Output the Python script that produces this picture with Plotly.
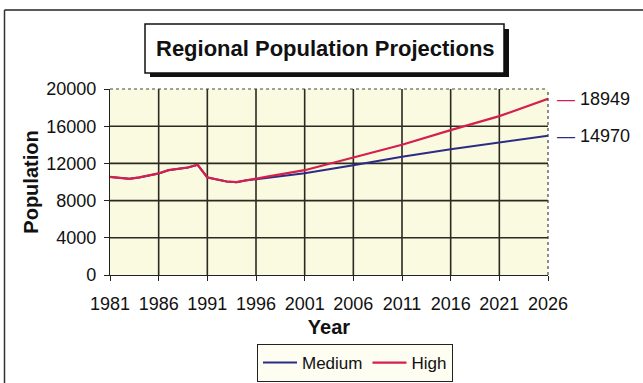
import plotly.graph_objects as go

# Historical population (shared by both projections)
hist_years = list(range(1981, 1996))
hist_pop = [10550, 10410, 10340, 10490, 10700, 10920, 11270, 11450, 11560, 11850,
            10490, 10270, 10050, 9980, 10190]

# Projection scenarios
high_years = [1996, 1997, 2001, 2006, 2011, 2016, 2021, 2026]
high_pop = [10400, 10550, 11270, 12620, 14000, 15580, 17080, 18949]

medium_years = [1996, 2001, 2006, 2011, 2016, 2021, 2026]
medium_pop = [10300, 10940, 11800, 12710, 13510, 14260, 14970]

tick_years = list(range(1981, 2027, 5))
pop_ticks = [0, 4000, 8000, 12000, 16000, 20000]

W, H = 643, 383
L, R, T, B = 110, 548, 89, 275
FONT = "Liberation Sans, Arial, sans-serif"
RED = "#D41F4F"
BLUE = "#2C2C84"


def px(x):
    return (x - L) / (R - L)


def py(y):
    return (B - y) / (B - T)


fig = go.Figure()
fig.add_trace(go.Scatter(
    x=hist_years + medium_years, y=hist_pop + medium_pop, name="Medium",
    mode="lines", line=dict(color=BLUE, width=2)))
fig.add_trace(go.Scatter(
    x=hist_years + high_years, y=hist_pop + high_pop, name="High",
    mode="lines", line=dict(color=RED, width=2.2)))

shapes = []
# interior gridlines
for yr in tick_years[1:-1]:
    shapes.append(dict(type="line", xref="x", yref="paper", x0=yr, x1=yr, y0=0, y1=1,
                       line=dict(color="#2a2a22", width=1.6), layer="below"))
for v in pop_ticks[1:-1]:
    shapes.append(dict(type="line", xref="paper", yref="y", x0=0, x1=1, y0=v, y1=v,
                       line=dict(color="#2a2a22", width=1.6), layer="below"))
# dotted top / right plot border
shapes.append(dict(type="line", xref="paper", yref="paper", x0=0, x1=1, y0=1, y1=1,
                   line=dict(color="#444", width=1.2, dash="dot")))
shapes.append(dict(type="line", xref="paper", yref="paper", x0=1, x1=1, y0=0, y1=1,
                   line=dict(color="#444", width=1.2, dash="dot")))
# chart frame
shapes.append(dict(type="line", xref="paper", yref="paper", x0=px(4.5), x1=px(643), y0=py(10), y1=py(10),
                   line=dict(color="#222", width=1.5)))
shapes.append(dict(type="line", xref="paper", yref="paper", x0=px(4.5), x1=px(4.5), y0=py(10), y1=py(384),
                   line=dict(color="#333", width=1.5)))
# title box with shadow
shapes.append(dict(type="rect", xref="paper", yref="paper", x0=px(150), x1=px(509), y0=py(29), y1=py(77),
                   fillcolor="#111", line=dict(width=0)))
shapes.append(dict(type="rect", xref="paper", yref="paper", x0=px(145), x1=px(504), y0=py(24), y1=py(73),
                   fillcolor="white", line=dict(color="#111", width=1.5)))

annotations = [
    dict(text="<b>Regional Population Projections</b>", xref="paper", yref="paper",
         x=px(325), y=py(48.5), showarrow=False, xanchor="center", yanchor="middle",
         font=dict(family=FONT, size=22, color="#111")),
    dict(text=f'<span style="color:{RED}">—</span> {high_pop[-1]}', xref="x", yref="y",
         x=high_years[-1], y=high_pop[-1], xanchor="left", yanchor="middle", showarrow=False,
         xshift=7, font=dict(family=FONT, size=18, color="#111")),
    dict(text=f'<span style="color:{BLUE}">—</span> {medium_pop[-1]}', xref="x", yref="y",
         x=medium_years[-1], y=medium_pop[-1], xanchor="left", yanchor="middle", showarrow=False,
         xshift=7, font=dict(family=FONT, size=18, color="#111")),
]

fig.update_layout(
    width=W, height=H, autosize=False,
    margin=dict(l=L, r=W - R, t=T, b=H - B, pad=0, autoexpand=False),
    paper_bgcolor="white", plot_bgcolor="#FAFAE1",
    font=dict(family=FONT, size=18, color="#111"),
    showlegend=True,
    legend=dict(orientation="h", x=px(355), y=py(344), xanchor="center", yanchor="top",
                bgcolor="#FDFDF2", bordercolor="#222", borderwidth=1,
                font=dict(family=FONT, size=17), itemwidth=34, tracegroupgap=0),
    shapes=shapes, annotations=annotations,
)
fig.update_xaxes(range=[1981, 2026], tickvals=tick_years, ticktext=[str(y) for y in tick_years],
                 showgrid=False, zeroline=False, automargin=False,
                 showline=True, linecolor="#222", linewidth=1.2,
                 ticks="outside", ticklen=5, tickcolor="#222",
                 tickfont=dict(size=18), ticklabelstandoff=7,
                 title=dict(text="<b>Year</b>", font=dict(size=20), standoff=7))
fig.update_yaxes(range=[0, 20000], tickvals=pop_ticks, ticktext=[str(v) for v in pop_ticks],
                 showgrid=False, zeroline=False, automargin=False,
                 showline=True, linecolor="#222", linewidth=1.2,
                 ticks="outside", ticklen=5, tickcolor="#222",
                 tickfont=dict(size=18), ticklabelstandoff=4,
                 title=dict(text="<b>Population</b>", font=dict(size=20), standoff=2))

fig.write_html("out.html")
